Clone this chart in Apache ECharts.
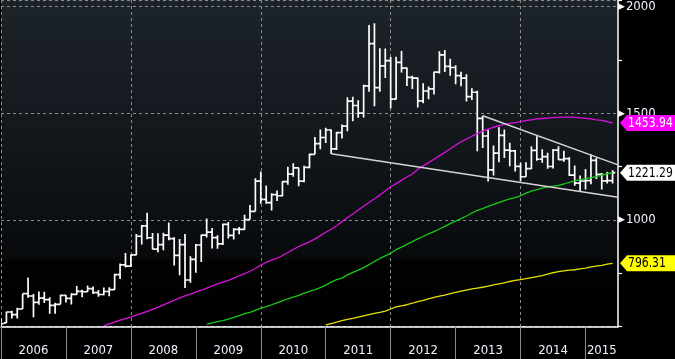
<!DOCTYPE html>
<html><head><meta charset="utf-8">
<script src="https://cdn.jsdelivr.net/npm/echarts@6/dist/echarts.min.js"></script>
<style>html,body{margin:0;padding:0;background:#000}#c{width:675px;height:359px}</style>
</head><body><div id="c"></div>
<script>
// Monthly bars Dec 2005 .. May 2015 (each bar drawn at its month end)
const firstBarMonth = '2005-12';
const open = [495,
 517,568,556,582,654,643,613,633,626,599,604,646,
 632,651,665,663,678,659,650,664,673,743,789,783,
 836,923,972,916,863,884,928,912,833,884,718,815,
 882,928,942,917,887,979,927,955,955,1001,1040,1181,
 1096,1081,1118,1113,1179,1214,1244,1181,1246,1307,1357,1386,
 1421,1333,1409,1439,1556,1536,1500,1628,1826,1620,1722,1746,
 1566,1738,1711,1668,1664,1558,1604,1614,1692,1773,1719,1714,
 1676,1664,1578,1598,1476,1393,1234,1313,1396,1327,1323,1251,
 1202,1240,1326,1284,1296,1250,1327,1282,1287,1210,1172,1182,
 1184,1279,1213,1183,1184];
const high = [538,
 569,574,588,654,730,652,664,663,637,611,649,648,
 656,690,672,692,688,671,683,684,747,795,845,838,
 934,975,1033,938,937,940,988,918,910,934,829,887,
 930,1006,962,928,982,990,960,967,1024,1070,1195,1227,
 1161,1125,1137,1181,1249,1265,1245,1254,1310,1388,1424,1432,
 1424,1412,1447,1575,1577,1560,1633,1913,1921,1804,1803,1763,
 1764,1791,1714,1676,1667,1640,1625,1694,1790,1796,1755,1725,
 1694,1683,1617,1605,1488,1424,1348,1434,1424,1361,1327,1268,
 1270,1345,1392,1331,1315,1332,1345,1324,1293,1255,1208,1238,
 1307,1290,1220,1224,1232];
const low = [489,
 516,538,537,582,635,543,602,610,560,560,604,613,
 603,649,637,662,652,640,647,642,672,723,776,781,
 834,884,909,862,848,857,904,786,740,681,705,752,
 802,917,866,865,882,913,908,932,953,1001,1040,1075,
 1075,1044,1088,1111,1164,1202,1157,1176,1242,1307,1331,1360,
 1309,1327,1381,1415,1462,1478,1480,1600,1532,1600,1665,1523,
 1564,1691,1627,1613,1527,1547,1565,1588,1686,1693,1676,1636,
 1626,1555,1562,1322,1337,1180,1208,1270,1290,1251,1226,1182,
 1202,1238,1277,1268,1240,1241,1281,1272,1206,1160,1131,1142,
 1167,1191,1142,1170,1170];
const close = [513,
 568,556,582,654,643,613,633,626,599,604,646,632,
 651,665,663,678,659,650,664,673,743,789,783,836,
 923,972,916,863,884,928,912,833,884,718,815,882,
 928,942,917,887,979,927,955,955,1001,1040,1181,1096,
 1081,1118,1113,1179,1214,1244,1181,1246,1307,1357,1386,1421,
 1333,1409,1439,1556,1536,1500,1628,1826,1620,1722,1746,1566,
 1738,1711,1668,1664,1558,1604,1614,1692,1773,1719,1714,1676,
 1664,1578,1598,1476,1393,1234,1313,1396,1327,1323,1251,1202,
 1240,1326,1284,1296,1250,1327,1282,1287,1210,1172,1182,1184,
 1279,1213,1183,1184,1221.29];

// Moving averages
const magentaStart = '2007-07';
const magenta = [503,512,521,530,537,544,553,562,571,580,590,601,612,623,634,644,652,661,670,680,
 690,700,708,716,727,738,748,759,772,788,801,811,820,833,847,861,875,886,897,911,
 926,942,956,972,992,1010,1027,1046,1064,1081,1099,1116,1135,1155,1170,1185,1201,1215,1236,1253,
 1268,1284,1300,1316,1333,1350,1366,1378,1392,1404,1416,1425,1434,1441,1447,1452,1456,1460,1465,1469,
 1473,1475,1477,1479,1480,1481,1481,1480,1478,1476,1473,1469,1466,1460,1453.94];
const greenStart = '2009-02';
const green = [510,517,523,528,535,543,551,560,566,576,586,593,602,611,620,630,638,646,656,665,
 673,682,694,708,720,727,742,754,764,776,790,805,819,831,843,860,872,885,898,911,
 922,934,945,957,969,982,994,1006,1018,1032,1044,1053,1063,1072,1081,1090,1098,1104,1112,1125,
 1135,1142,1149,1155,1158,1162,1168,1176,1183,1188,1193,1198,1203,1210,1216,1221];
const yellowStart = '2010-12';
const yellow = [508,514,520,527,533,538,544,550,556,561,566,572,582,592,597,602,609,617,623,630,
 636,642,647,654,660,666,671,676,680,684,689,695,700,705,711,716,720,724,729,734,
 738,745,752,757,761,764,766,770,774,779,783,787,792,796.31];

// Trend lines: [month, value]
const upperTrend = [['2013-05', 1488], ['2015-06', 1258]];
const lowerTrend = [['2011-01', 1310], ['2015-06', 1106]];

const yTickLabels = [1000, 1500, 2000];

// ---- build ----
function addMonths(label, k) {
  let y = +label.slice(0,4), m = +label.slice(5,7) - 1 + k;
  y += Math.floor(m/12); m = ((m%12)+12)%12;
  return y + '-' + String(m+1).padStart(2,'0');
}
const categories = [];
for (let i = 0; i <= open.length; i++) categories.push(addMonths(firstBarMonth, i));

const bars = open.map((o, i) => [categories[i], o, high[i], low[i], close[i]]);
const seriesFrom = (start, arr) => arr.map((v, i) => [addMonths(start, i), v]);
const lastCat = categories[open.length - 1];

const FONT = "'DejaVu Sans Condensed','Liberation Sans Narrow',sans-serif";

function renderOHLC(params, api) {
  const x = api.value(0);
  const pO = api.coord([x, api.value(1)]);
  const pH = api.coord([x, api.value(2)]);
  const pL = api.coord([x, api.value(3)]);
  const pC = api.coord([x, api.value(4)]);
  const half = api.size([1, 0])[0] * 0.5;
  const style = { stroke: '#ffffff', lineWidth: 1.7 };
  return { type: 'group', children: [
    { type: 'line', shape: { x1: pH[0], y1: pH[1], x2: pL[0], y2: pL[1] }, style },
    { type: 'line', shape: { x1: pO[0] - half, y1: pO[1], x2: pO[0], y2: pO[1] }, style },
    { type: 'line', shape: { x1: pC[0], y1: pC[1], x2: pC[0] + half, y2: pC[1] }, style }
  ]};
}

const tagStyles = [
  { fill: '#ff00ff', text: '#ffffff' },
  { fill: '#ffffff', text: '#000000' },
  { fill: '#ffff00', text: '#000000' }
];
function renderTag(params, api) {
  const p = api.coord([api.value(0), api.value(1)]);
  const cs = params.coordSys;
  const x0 = cs.x + cs.width + 2;
  const x1 = api.getWidth();
  const y = p[1], h = 16;
  const st = tagStyles[params.dataIndex];
  return { type: 'group', children: [
    { type: 'polygon', shape: { points: [[x0, y], [x0 + 7, y - h/2], [x1, y - h/2], [x1, y + h/2], [x0 + 7, y + h/2]] },
      style: { fill: st.fill } },
    { type: 'text', x: x0 + 8, y: y + 0.5, scaleX: 0.86, originX: 0, originY: 0,
      style: { text: api.value(1).toFixed(2), fill: st.text, font: '14px ' + FONT, verticalAlign: 'middle', align: 'left' } }
  ]};
}

const chart = echarts.init(document.getElementById('c'), null, { renderer: 'canvas' });
chart.setOption({
  backgroundColor: '#000000',
  animation: false,
  grid: {
    left: 1, right: 57, top: 0, bottom: 32.5, show: true, borderWidth: 0,
    backgroundColor: { type: 'linear', x: 0, y: 0, x2: 0, y2: 1, colorStops: [
      { offset: 0, color: '#1c2329' }, { offset: 0.45, color: '#12171c' },
      { offset: 0.79, color: '#080a0c' }, { offset: 0.80, color: '#020202' }, { offset: 1, color: '#000000' } ] }
  },
  xAxis: {
    type: 'category', data: categories, boundaryGap: false,
    axisLine: { show: true, lineStyle: { color: '#ffffff', width: 1.5 } },
    axisTick: { show: true, length: 34, lineStyle: { color: '#8a8a8a', width: 1 },
      interval: (i, v) => v.endsWith('-12') },
    axisLabel: { show: true, margin: 18, color: '#eef3ff', fontSize: 13, fontFamily: FONT,
      interval: (i, v) => (v.endsWith('-06') && v < '2015') || v === '2015-03',
      formatter: v => v.slice(0, 4) },
    splitLine: { show: true, lineStyle: { color: '#8c8c8c', type: [3, 3], width: 1 },
      interval: (i, v) => v.endsWith('-12') && (+v.slice(0, 4)) % 2 === 1 }
  },
  yAxis: [{
    type: 'value', position: 'right', min: 500, max: 2030.5, interval: 250,
    axisLine: { show: true, lineStyle: { color: '#ffffff', width: 1.5 } },
    axisTick: { show: true, length: 4, inside: false, lineStyle: { color: '#ffffff', width: 1.2 } },
    axisLabel: { show: true, margin: 0, fontSize: 13, fontFamily: FONT, color: '#eef3ff',
      formatter: v => yTickLabels.indexOf(v) >= 0 ? '{a|▶}{t|' + v + '}' : '',
      rich: { a: { color: '#ffffff', fontSize: 9, fontFamily: 'DejaVu Sans' },
              t: { color: '#eef3ff', fontSize: 13, fontFamily: FONT, padding: [0, 0, 0, 1] } } },
    splitLine: { show: false }
  }, {
    type: 'value', position: 'left', min: 500, max: 2030.5, interval: 500,
    axisLine: { show: false }, axisTick: { show: false }, axisLabel: { show: false },
    splitLine: { show: true, lineStyle: { color: '#8c8c8c', type: [3, 3], width: 1 } }
  }],
  series: [
    { type: 'custom', name: 'Price', renderItem: renderOHLC, data: bars, clip: true,
      encode: { x: 0, y: [1, 2, 3, 4] }, z: 2 },
    { type: 'line', data: seriesFrom(magentaStart, magenta), showSymbol: false, z: 3,
      lineStyle: { color: '#dd11dd', width: 1.3 } },
    { type: 'line', data: seriesFrom(greenStart, green), showSymbol: false, z: 3,
      lineStyle: { color: '#19c819', width: 1.3 } },
    { type: 'line', data: seriesFrom(yellowStart, yellow), showSymbol: false, z: 3,
      lineStyle: { color: '#e6e000', width: 1.3 } },
    { type: 'line', data: upperTrend, showSymbol: false, z: 4,
      lineStyle: { color: '#d4d4d4', width: 1.4 } },
    { type: 'line', data: lowerTrend, showSymbol: false, z: 4,
      lineStyle: { color: '#d4d4d4', width: 1.4 } },
    { type: 'custom', name: 'Tags', renderItem: renderTag, clip: false, z: 10,
      encode: { x: 0, y: 1 },
      data: [[lastCat, magenta[magenta.length - 1]], [lastCat, close[close.length - 1]], [lastCat, yellow[yellow.length - 1]]] }
  ]
});
</script>
</body></html>
